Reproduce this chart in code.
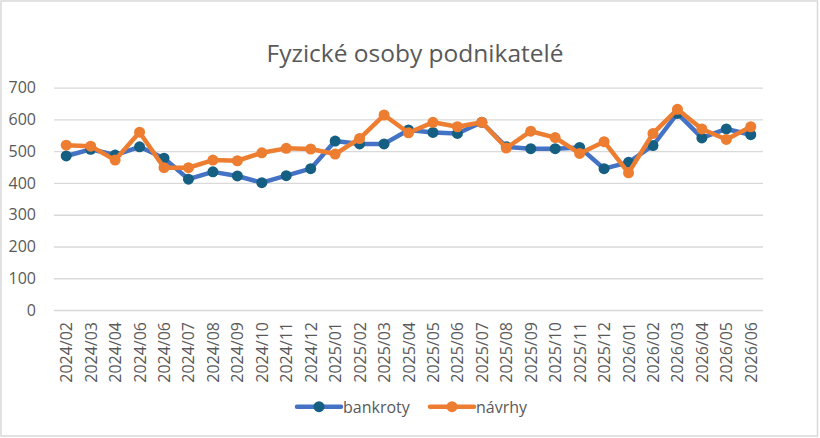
<!DOCTYPE html>
<html>
<head>
<meta charset="utf-8">
<script src="https://cdn.jsdelivr.net/npm/d3@7"></script>
<style>
  body { margin: 0; background: #fff; }
  text { font-family: "Open Sans", sans-serif; fill: #595959; }
</style>
</head>
<body>
<div id="chart"></div>
<script>
// Category labels (as printed on the x axis)
const months = [
  '2024/02', '2024/03', '2024/04', '2024/06', '2024/06', '2024/07', '2024/08',
  '2024/09', '2024/10', '2024/11', '2024/12', '2025/01', '2025/02', '2025/03',
  '2025/04', '2025/05', '2025/06', '2025/07', '2025/08', '2025/09', '2025/10',
  '2025/11', '2025/12', '2026/01', '2026/02', '2026/03', '2026/04', '2026/05',
  '2026/06'
];

// Series values
const bankroty = [
  485, 506, 488, 514, 478, 412, 435, 422, 401, 423, 445, 532, 523, 523,
  567, 559, 556, 591, 514, 508, 508, 512, 445, 465, 518, 619, 542, 570, 552
];
const navrhy = [
  519, 516, 472, 560, 448, 448, 472, 470, 495, 509, 507, 491, 540, 614,
  558, 591, 577, 591, 510, 563, 543, 493, 530, 432, 556, 632, 570, 537, 577
];

const yTicks = [0, 100, 200, 300, 400, 500, 600, 700];

const W = 820;
const H = 438;
const PLOT = { LEFT: 54, RIGHT: 763, TOP: 87.7, BOTTOM: 310 };

const svg = d3
  .select('#chart')
  .append('svg')
  .attr('width', W)
  .attr('height', H);

// Chart area border
svg
  .append('rect')
  .attr('x', 1)
  .attr('y', 1)
  .attr('width', 816.5)
  .attr('height', 435)
  .attr('fill', '#fff')
  .attr('stroke', '#d9d9d9')
  .attr('stroke-width', 1.5);

// Title
svg
  .append('text')
  .attr('x', 415)
  .attr('y', 62)
  .attr('text-anchor', 'middle')
  .style('font-size', '24.5px')
  .text('Fyzické osoby podnikatelé');

// Scales
const x = d3
  .scaleBand()
  .domain(d3.range(months.length))
  .range([PLOT.LEFT, PLOT.RIGHT]);

const y = d3
  .scaleLinear()
  .domain([0, 700])
  .range([PLOT.BOTTOM, PLOT.TOP]);

const cx = i => x(i) + x.bandwidth() / 2;

// Horizontal gridlines + y labels via axisLeft
const yAxis = d3
  .axisLeft(y)
  .tickValues(yTicks)
  .tickSize(-(PLOT.RIGHT - PLOT.LEFT))
  .tickPadding(18);

const yG = svg
  .append('g')
  .attr('transform', `translate(${PLOT.LEFT}, 0)`)
  .call(yAxis);
yG.select('.domain').remove();
yG.selectAll('.tick line').attr('stroke', '#d9d9d9').attr('stroke-width', 1.3);
yG.selectAll('.tick text')
  .attr('fill', '#595959')
  .style('font-size', '16px')
  .style('font-family', '"Open Sans", sans-serif');

// X axis labels, rotated
const xAxis = d3
  .axisBottom(x)
  .tickSize(0)
  .tickFormat(i => months[i]);

const xG = svg
  .append('g')
  .attr('transform', `translate(0, ${PLOT.BOTTOM})`)
  .call(xAxis);
xG.select('.domain').remove();
xG.selectAll('.tick text')
  .attr('fill', '#595959')
  .style('font-size', '16px')
  .style('font-family', '"Open Sans", sans-serif')
  .attr('text-anchor', 'end')
  .attr('dy', null)
  .attr('dominant-baseline', 'central')
  .attr('transform', 'translate(0, 12) rotate(-90)')
  .attr('x', 0)
  .attr('y', 0);

// Series
const series = [
  { name: 'bankroty', values: bankroty, line: '#4472c4', dot: '#156082' },
  { name: 'návrhy', values: navrhy, line: '#ed7d31', dot: '#ed7d31' }
];

const line = d3
  .line()
  .x((d, i) => cx(i))
  .y(d => y(d));

series.forEach(function(s) {
  svg
    .append('path')
    .datum(s.values)
    .attr('fill', 'none')
    .attr('stroke', s.line)
    .attr('stroke-width', 4.5)
    .attr('stroke-linejoin', 'round')
    .attr('stroke-linecap', 'round')
    .attr('d', line);

  svg
    .append('g')
    .selectAll('circle')
    .data(s.values)
    .enter()
    .append('circle')
    .attr('cx', (d, i) => cx(i))
    .attr('cy', d => y(d))
    .attr('r', 5.5)
    .attr('fill', s.dot);
});

// Legend
const legendX = [297, 430];
const legendY = 406.7;
series.forEach(function(s, k) {
  const g = svg.append('g').attr('transform', `translate(${legendX[k]}, ${legendY})`);
  g.append('line')
    .attr('x1', 0)
    .attr('x2', 44)
    .attr('stroke', s.line)
    .attr('stroke-width', 4.5)
    .attr('stroke-linecap', 'round');
  g.append('circle')
    .attr('cx', 22)
    .attr('r', 5.5)
    .attr('fill', s.dot);
  g.append('text')
    .attr('x', 46)
    .attr('dominant-baseline', 'central')
    .style('font-size', '16px')
    .text(s.name);
});
</script>
</body>
</html>
